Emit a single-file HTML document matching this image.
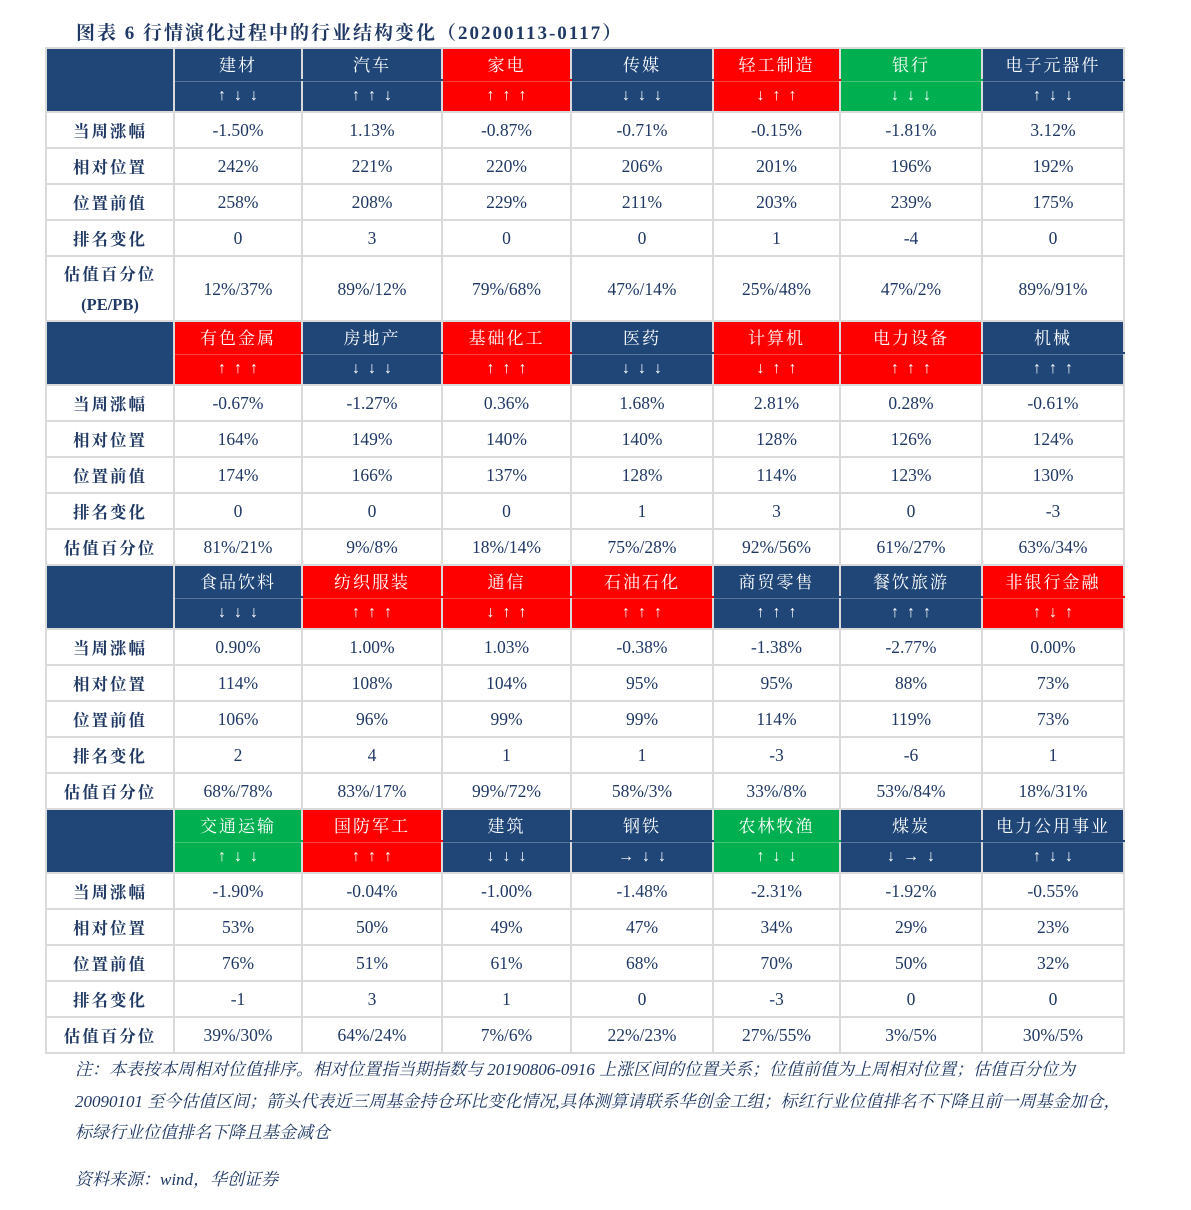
<!DOCTYPE html>
<html><head><meta charset="utf-8"><style>
body{margin:0;width:1191px;height:1210px;background:#fff;position:relative;font-family:"Liberation Serif","Noto Serif CJK SC",serif;color:#1f3864}
.title{position:absolute;left:76px;top:18px;font-size:19px;font-weight:bold;color:#1f3864;letter-spacing:2px;font-family:"Liberation Serif","Noto Serif CJK SC",serif}
table{position:absolute;left:45px;top:47px;width:1078px;border-collapse:collapse;table-layout:fixed}
td{border:2px solid #dadada;text-align:center;padding:0;font-size:17.5px;height:32px;overflow:hidden;line-height:20px}
tr.d td{height:34px}
tr.t td{height:63px}
td.l{font-weight:bold;font-family:"Noto Serif CJK SC",serif;font-size:16.5px;letter-spacing:2px}
td.h{color:#fff;background:#1f4677;font-family:"Noto Serif CJK SC",serif;font-size:17px;letter-spacing:2px;height:30px;border-bottom-color:#1f4677}
td.a{color:#fff;background:#1f4677;font-size:16px;height:30px;word-spacing:4px;border-top:2px solid #1f4677;box-shadow:inset 0 1px 0 rgba(255,255,255,.25)}
td.e{background:#1f4677}
.r{background:#ff0000!important}
td.h.r,td.a.r{border-bottom-color:#dadada}
td.h.r{border-bottom-color:#ff0000}
td.a.r{border-top-color:#ff0000}
td.h.g{border-bottom-color:#00b050}
td.a.g{border-top-color:#00b050}
.g{background:#00b050!important}
.note{position:absolute;left:75px;width:1062px;font-size:17px;font-style:italic;line-height:31.5px;color:#1f3864;font-family:"Liberation Serif","Noto Serif CJK SC",serif}
</style></head><body>
<div class="title">图表 6 行情演化过程中的行业结构变化（20200113-0117）</div>
<table>
<col style="width:128px"><col style="width:128px"><col style="width:140px"><col style="width:129px"><col style="width:142px"><col style="width:127px"><col style="width:142px"><col style="width:142px">
<tr><td class="e" rowspan="2"></td><td class="h">建材</td><td class="h">汽车</td><td class="h r">家电</td><td class="h">传媒</td><td class="h r">轻工制造</td><td class="h g">银行</td><td class="h">电子元器件</td></tr>
<tr><td class="a">↑ ↓ ↓</td><td class="a">↑ ↑ ↓</td><td class="a r">↑ ↑ ↑</td><td class="a">↓ ↓ ↓</td><td class="a r">↓ ↑ ↑</td><td class="a g">↓ ↓ ↓</td><td class="a">↑ ↓ ↓</td></tr>
<tr class="d"><td class="l">当周涨幅</td><td>-1.50%</td><td>1.13%</td><td>-0.87%</td><td>-0.71%</td><td>-0.15%</td><td>-1.81%</td><td>3.12%</td></tr>
<tr class="d"><td class="l">相对位置</td><td>242%</td><td>221%</td><td>220%</td><td>206%</td><td>201%</td><td>196%</td><td>192%</td></tr>
<tr class="d"><td class="l">位置前值</td><td>258%</td><td>208%</td><td>229%</td><td>211%</td><td>203%</td><td>239%</td><td>175%</td></tr>
<tr class="d"><td class="l">排名变化</td><td>0</td><td>3</td><td>0</td><td>0</td><td>1</td><td>-4</td><td>0</td></tr>
<tr class="t"><td class="l" style="line-height:30px">估值百分位<br><span style="font-family:'Liberation Serif',serif;letter-spacing:0">(PE/PB)</span></td><td>12%/37%</td><td>89%/12%</td><td>79%/68%</td><td>47%/14%</td><td>25%/48%</td><td>47%/2%</td><td>89%/91%</td></tr>

<tr><td class="e" rowspan="2"></td><td class="h r">有色金属</td><td class="h">房地产</td><td class="h r">基础化工</td><td class="h">医药</td><td class="h r">计算机</td><td class="h r">电力设备</td><td class="h">机械</td></tr>
<tr><td class="a r">↑ ↑ ↑</td><td class="a">↓ ↓ ↓</td><td class="a r">↑ ↑ ↑</td><td class="a">↓ ↓ ↓</td><td class="a r">↓ ↑ ↑</td><td class="a r">↑ ↑ ↑</td><td class="a">↑ ↑ ↑</td></tr>
<tr class="d"><td class="l">当周涨幅</td><td>-0.67%</td><td>-1.27%</td><td>0.36%</td><td>1.68%</td><td>2.81%</td><td>0.28%</td><td>-0.61%</td></tr>
<tr class="d"><td class="l">相对位置</td><td>164%</td><td>149%</td><td>140%</td><td>140%</td><td>128%</td><td>126%</td><td>124%</td></tr>
<tr class="d"><td class="l">位置前值</td><td>174%</td><td>166%</td><td>137%</td><td>128%</td><td>114%</td><td>123%</td><td>130%</td></tr>
<tr class="d"><td class="l">排名变化</td><td>0</td><td>0</td><td>0</td><td>1</td><td>3</td><td>0</td><td>-3</td></tr>
<tr class="d"><td class="l">估值百分位</td><td>81%/21%</td><td>9%/8%</td><td>18%/14%</td><td>75%/28%</td><td>92%/56%</td><td>61%/27%</td><td>63%/34%</td></tr>

<tr><td class="e" rowspan="2"></td><td class="h">食品饮料</td><td class="h r">纺织服装</td><td class="h r">通信</td><td class="h r">石油石化</td><td class="h">商贸零售</td><td class="h">餐饮旅游</td><td class="h r">非银行金融</td></tr>
<tr><td class="a">↓ ↓ ↓</td><td class="a r">↑ ↑ ↑</td><td class="a r">↓ ↑ ↑</td><td class="a r">↑ ↑ ↑</td><td class="a">↑ ↑ ↑</td><td class="a">↑ ↑ ↑</td><td class="a r">↑ ↓ ↑</td></tr>
<tr class="d"><td class="l">当周涨幅</td><td>0.90%</td><td>1.00%</td><td>1.03%</td><td>-0.38%</td><td>-1.38%</td><td>-2.77%</td><td>0.00%</td></tr>
<tr class="d"><td class="l">相对位置</td><td>114%</td><td>108%</td><td>104%</td><td>95%</td><td>95%</td><td>88%</td><td>73%</td></tr>
<tr class="d"><td class="l">位置前值</td><td>106%</td><td>96%</td><td>99%</td><td>99%</td><td>114%</td><td>119%</td><td>73%</td></tr>
<tr class="d"><td class="l">排名变化</td><td>2</td><td>4</td><td>1</td><td>1</td><td>-3</td><td>-6</td><td>1</td></tr>
<tr class="d"><td class="l">估值百分位</td><td>68%/78%</td><td>83%/17%</td><td>99%/72%</td><td>58%/3%</td><td>33%/8%</td><td>53%/84%</td><td>18%/31%</td></tr>

<tr><td class="e" rowspan="2"></td><td class="h g">交通运输</td><td class="h r">国防军工</td><td class="h">建筑</td><td class="h">钢铁</td><td class="h g">农林牧渔</td><td class="h">煤炭</td><td class="h">电力公用事业</td></tr>
<tr><td class="a g">↑ ↓ ↓</td><td class="a r">↑ ↑ ↑</td><td class="a">↓ ↓ ↓</td><td class="a">→ ↓ ↓</td><td class="a g">↑ ↓ ↓</td><td class="a">↓ → ↓</td><td class="a">↑ ↓ ↓</td></tr>
<tr class="d"><td class="l">当周涨幅</td><td>-1.90%</td><td>-0.04%</td><td>-1.00%</td><td>-1.48%</td><td>-2.31%</td><td>-1.92%</td><td>-0.55%</td></tr>
<tr class="d"><td class="l">相对位置</td><td>53%</td><td>50%</td><td>49%</td><td>47%</td><td>34%</td><td>29%</td><td>23%</td></tr>
<tr class="d"><td class="l">位置前值</td><td>76%</td><td>51%</td><td>61%</td><td>68%</td><td>70%</td><td>50%</td><td>32%</td></tr>
<tr class="d"><td class="l">排名变化</td><td>-1</td><td>3</td><td>1</td><td>0</td><td>-3</td><td>0</td><td>0</td></tr>
<tr class="d"><td class="l">估值百分位</td><td>39%/30%</td><td>64%/24%</td><td>7%/6%</td><td>22%/23%</td><td>27%/55%</td><td>3%/5%</td><td>30%/5%</td></tr>
</table>
<div class="note" style="top:1054px">注：本表按本周相对位值排序。相对位置指当期指数与 20190806-0916 上涨区间的位置关系；位值前值为上周相对位置；估值百分位为 20090101 至今估值区间；箭头代表近三周基金持仓环比变化情况,具体测算请联系华创金工组；标红行业位值排名不下降且前一周基金加仓，标绿行业位值排名下降且基金减仓</div>
<div class="note" style="top:1164px">资料来源：wind，华创证券</div>
</body></html>
